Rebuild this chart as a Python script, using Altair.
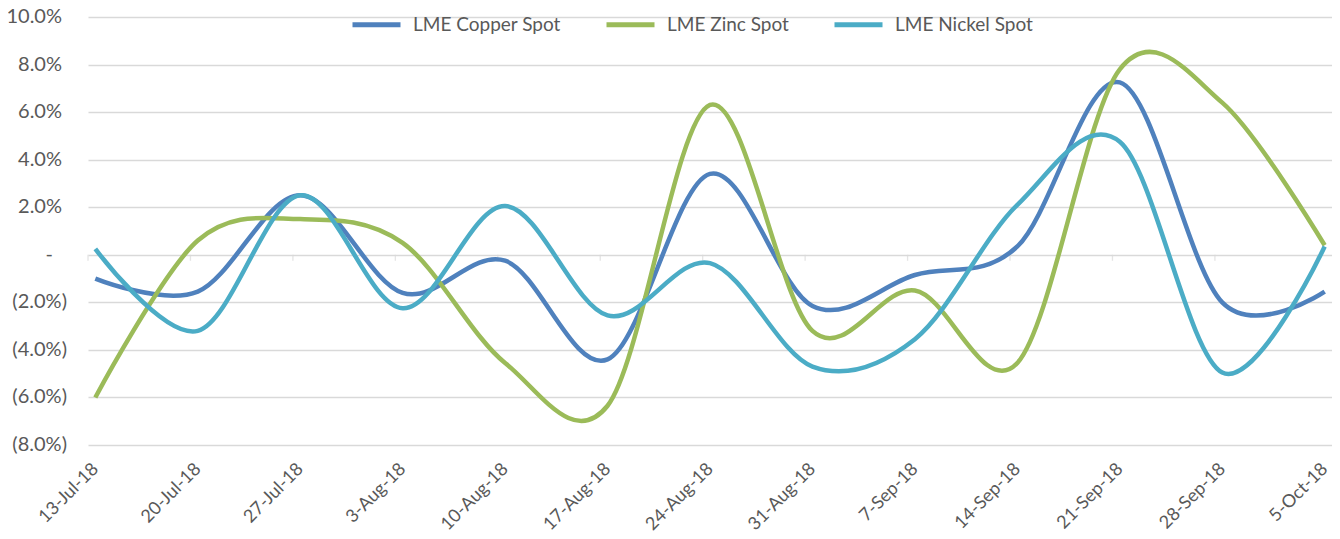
import altair as alt
import pandas as pd

dates = ["2018-07-13", "2018-07-20", "2018-07-27", "2018-08-03", "2018-08-10",
         "2018-08-17", "2018-08-24", "2018-08-31", "2018-09-07", "2018-09-14",
         "2018-09-21", "2018-09-28", "2018-10-05"]
copper = [-1.0, -1.55, 2.5, -1.6, -0.25, -4.4, 3.4, -2.15, -0.85, 0.35, 7.25, -2.0, -1.55]
zinc = [-6.0, 0.6, 1.5, 0.5, -4.55, -6.35, 6.3, -3.2, -1.5, -4.55, 7.8, 6.4, 0.4]
nickel = [0.25, -3.2, 2.5, -2.25, 2.05, -2.55, -0.35, -4.7, -3.55, 2.1, 4.75, -4.95, 0.35]
series_names = ["LME Copper Spot", "LME Zinc Spot", "LME Nickel Spot"]
series_colors = ["#4f81bd", "#9bbb59", "#4bacc6"]
y_ticks = [-8, -6, -4, -2, 0, 2, 4, 6, 8, 10]

rows = []
for name, vals in zip(series_names, [copper, zinc, nickel]):
    for d, v in zip(dates, vals):
        rows.append({"date": d + "T00:00:00Z", "series": name, "value": v})
df = pd.DataFrame(rows)

bounds = pd.DataFrame({"b": [(pd.Timestamp(d) - pd.Timedelta(hours=12)).strftime("%Y-%m-%dT%H:%M:%SZ") for d in dates]})
ylab_df = pd.DataFrame({"v": y_ticks})

FONT = "Lato"
GREY = "#595959"

x_values = [alt.DateTime(year=int(d[:4]), month=int(d[5:7]), date=int(d[8:10]), utc=True) for d in dates]
x_scale = alt.Scale(type="utc",
                    domain=[alt.DateTime(year=2018, month=7, date=12, hours=12, utc=True),
                            alt.DateTime(year=2018, month=10, date=5, hours=12, utc=True)])
y_scale = alt.Scale(domain=[-8, 10], nice=False, zero=False)

lines = alt.Chart(df).mark_line(interpolate="cardinal", strokeWidth=4.5, clip=False).encode(
    x=alt.X("date:T", scale=x_scale,
            axis=alt.Axis(values=x_values, labelExpr="utcFormat(datum.value, '%-d-%b-%y')",
                          labelAngle=-45, labelBaseline="middle", labelAlign="right",
                          grid=False, ticks=False, domain=False, title=None,
                          labelFont=FONT, labelFontSize=18, labelColor=GREY, labelPadding=21)),
    y=alt.Y("value:Q", scale=y_scale,
            axis=alt.Axis(values=y_ticks, labels=False, grid=True,
                          gridColor="#d9d9d9", gridWidth=1.3, ticks=False, domain=False,
                          title=None)),
    color=alt.Color("series:N", scale=alt.Scale(domain=series_names, range=series_colors),
                    legend=alt.Legend(title=None, orient="none", direction="horizontal",
                                      legendX=262, legendY=-19, symbolType="stroke",
                                      symbolSize=2304, symbolStrokeWidth=5,
                                      labelFont=FONT, labelFontSize=19, labelColor=GREY,
                                      columnPadding=35, labelOffset=10)),
    order=alt.Order("date:T"),
)

# y tick labels in Excel accounting style: positives, dash for zero, negatives in brackets
base = alt.Chart(ylab_df).mark_text(align="right", baseline="middle", font=FONT,
                                    fontSize=20, color=GREY)
lab_pos = base.transform_filter("datum.v > 0").transform_calculate(
    t="format(datum.v, '.1f') + '%'").encode(
    y=alt.Y("v:Q", scale=y_scale), x=alt.value(-26), text="t:N")
lab_zero = base.transform_filter("datum.v == 0").transform_calculate(
    t="'-'").encode(
    y=alt.Y("v:Q", scale=y_scale), x=alt.value(-35), text="t:N")
lab_neg = base.transform_filter("datum.v < 0").transform_calculate(
    t="'(' + format(-datum.v, '.1f') + '%)'").encode(
    y=alt.Y("v:Q", scale=y_scale), x=alt.value(-21), text="t:N")

ticks = alt.Chart(bounds).mark_tick(orient="vertical", size=6, thickness=1.3, yOffset=3,
                                    color="#d9d9d9").encode(
    x=alt.X("b:T", scale=x_scale),
    y=alt.datum(0),
)

chart = alt.layer(ticks, lines, lab_pos, lab_zero, lab_neg).properties(
    width=1244, height=428,
    padding={"left": 80, "top": 9, "right": 0, "bottom": 86},
    autosize=alt.AutoSizeParams(type="none"),
).configure_view(stroke=None)

chart.save("out.html", embed_options={"renderer": "svg", "actions": False})
